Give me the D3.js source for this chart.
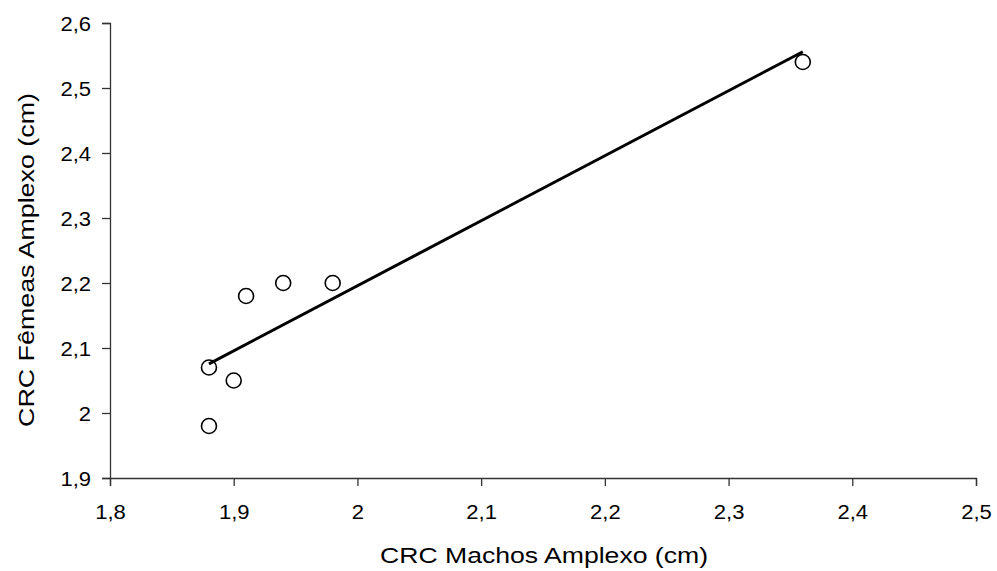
<!DOCTYPE html>
<html>
<head>
<meta charset="utf-8">
<script src="https://cdn.jsdelivr.net/npm/d3@7"></script>
<style>
  body { margin: 0; background: #fff; }
  text { font-family: "Liberation Sans", Arial, sans-serif; fill: #000; }
</style>
</head>
<body>
<div id="chart"></div>
<script>
const machos = [1.88, 1.88, 1.90, 1.91, 1.94, 1.98, 2.36];
const femeas = [2.07, 1.98, 2.05, 2.18, 2.20, 2.20, 2.54];
const xTicks = [1.8, 1.9, 2.0, 2.1, 2.2, 2.3, 2.4, 2.5];
const yTicks = [1.9, 2.0, 2.1, 2.2, 2.3, 2.4, 2.5, 2.6];

const width = 997, height = 571;
const margin = { top: 23, right: 21, bottom: 93, left: 110 };

const svg = d3.select('#chart').append('svg')
  .attr('width', width)
  .attr('height', height);

const x = d3.scaleLinear().domain([1.8, 2.5]).range([margin.left, width - margin.right]);
const y = d3.scaleLinear().domain([1.9, 2.6]).range([height - margin.bottom, margin.top]);

const fmt = d => d3.format('.1~f')(d).replace('.', ',');

// reference text is drawn a bit wider than Liberation Sans
function stretch(sel, k) {
  sel.each(function () {
    const w = this.getComputedTextLength();
    d3.select(this).attr('textLength', w * k).attr('lengthAdjust', 'spacingAndGlyphs');
  });
}

// axes
const xAxis = svg.append('g')
  .attr('transform', 'translate(0,' + y(1.9) + ')')
  .call(d3.axisBottom(x).tickValues(xTicks).tickFormat(fmt).tickSize(8).tickPadding(19));
const yAxis = svg.append('g')
  .attr('transform', 'translate(' + x(1.8) + ',0)')
  .call(d3.axisLeft(y).tickValues(yTicks).tickFormat(fmt).tickSize(8).tickPadding(11));

[xAxis, yAxis].forEach(a => {
  a.selectAll('path, line').attr('stroke', '#333').attr('stroke-width', 1.3);
  a.selectAll('text').style('font-size', '19.5px').attr('fill', '#000').call(stretch, 1.13);
});
yAxis.selectAll('text').attr('dy', '0.36em');

// regression line
const mx = d3.mean(machos), my = d3.mean(femeas);
const sxy = d3.sum(machos, (v, i) => (v - mx) * (femeas[i] - my));
const sxx = d3.sum(machos, v => (v - mx) * (v - mx));
const slope = sxy / sxx, intercept = my - slope * mx;
const x0 = d3.min(machos), x1 = d3.max(machos);

svg.append('line')
  .attr('x1', x(x0)).attr('y1', y(intercept + slope * x0))
  .attr('x2', x(x1)).attr('y2', y(intercept + slope * x1))
  .attr('stroke', '#000').attr('stroke-width', 3);

// points
svg.append('g')
  .selectAll('circle')
  .data(machos.map((v, i) => [v, femeas[i]]))
  .enter()
  .append('circle')
  .attr('cx', d => x(d[0]))
  .attr('cy', d => y(d[1]))
  .attr('r', 7.5)
  .attr('fill', 'none')
  .attr('stroke', '#000')
  .attr('stroke-width', 1.6);

// titles
svg.append('text')
  .attr('x', 544)
  .attr('y', 563)
  .attr('text-anchor', 'middle')
  .style('font-size', '22px')
  .attr('textLength', 328)
  .attr('lengthAdjust', 'spacingAndGlyphs')
  .text('CRC Machos Amplexo (cm)');

svg.append('text')
  .attr('transform', 'translate(34,260) rotate(-90)')
  .attr('text-anchor', 'middle')
  .style('font-size', '22px')
  .attr('textLength', 334)
  .attr('lengthAdjust', 'spacingAndGlyphs')
  .text('CRC Fêmeas Amplexo (cm)');
</script>
</body>
</html>
